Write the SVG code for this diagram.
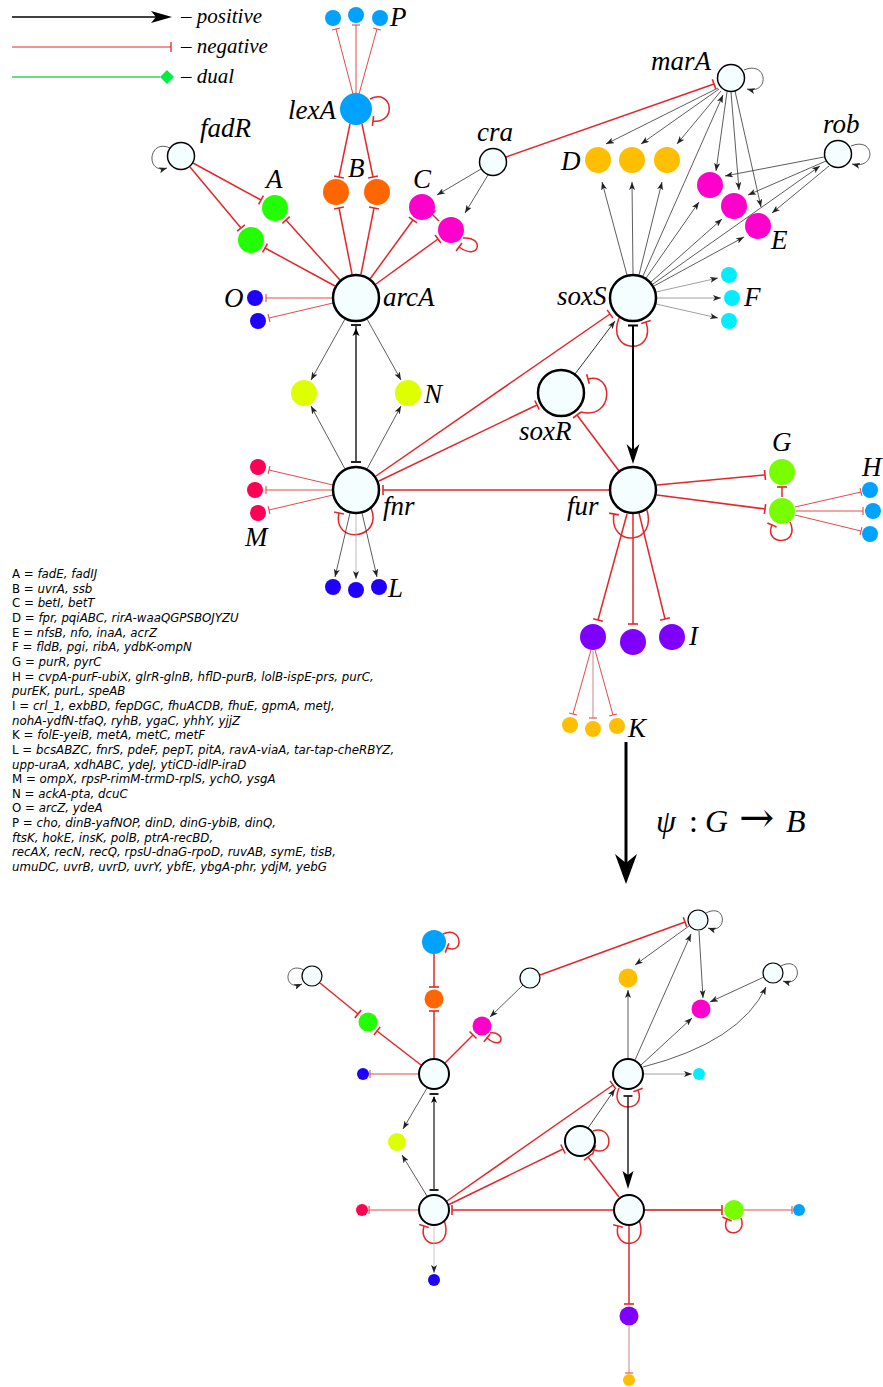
<svg xmlns="http://www.w3.org/2000/svg" width="883" height="1387" viewBox="0 0 883 1387">
<defs>
<style>
.r{stroke:#e3262a;stroke-width:1.5;fill:none;marker-end:url(#tb)}
.rt{stroke:#e24a4a;stroke-width:1;fill:none;marker-end:url(#tbs)}
.k{stroke:#333;stroke-width:0.8;fill:none;marker-end:url(#ah)}
.kg{stroke:#888;stroke-width:0.8;fill:none;marker-end:url(#ah)}
.nd{fill:#f4fefe;stroke:#000;stroke-width:2.5}
.ns{fill:#f4fefe;stroke:#000;stroke-width:1.5}
.nd2{fill:#f4fefe;stroke:#000;stroke-width:2}
.ns2{fill:#f4fefe;stroke:#000;stroke-width:1.2}
.lb{font-family:"Liberation Serif",serif;font-style:italic;font-size:27px;fill:#000}
.lg{font-family:"Liberation Serif",serif;font-style:italic;font-size:21px;fill:#000}
.tx{font-family:"DejaVu Sans",sans-serif;font-size:11.8px;fill:#000}
.it{font-style:italic}
.blue{fill:#00a2ff}.orange{fill:#ff6600}.green{fill:#22ff00}.mag{fill:#ff00cc}
.gold{fill:#ffbf00}.cyan{fill:#00eeff}.ind{fill:#1f00ff}.yel{fill:#ddff00}
.pink{fill:#ff0055}.lime{fill:#77ff00}.purp{fill:#7f00ff}
</style>
<marker id="tb" markerUnits="userSpaceOnUse" viewBox="-2 -6 4 12" markerWidth="4" markerHeight="12" refX="0" refY="0" orient="auto"><path d="M0,-5V5" stroke="#e3262a" stroke-width="1.6"/></marker>
<marker id="tbs" markerUnits="userSpaceOnUse" viewBox="-2 -5 4 10" markerWidth="4" markerHeight="10" refX="0" refY="0" orient="auto"><path d="M0,-4V4" stroke="#e24a4a" stroke-width="1.1"/></marker>
<marker id="ah" markerUnits="userSpaceOnUse" viewBox="0 -3 8 6" markerWidth="8" markerHeight="6" refX="8" refY="0" orient="auto"><path d="M0,-3L8,0L0,3L2,0z" fill="#222"/></marker>
</defs>
<rect width="883" height="1387" fill="#fff"/>

<!-- key -->
<g id="key">
<path d="M12,17H156" stroke="#000" stroke-width="1.3"/>
<path d="M151,11L172,17L151,23L156,17z" fill="#000"/>
<path d="M12,47H171" stroke="#e3262a" stroke-width="1.2"/>
<path d="M171,42V52" stroke="#e3262a" stroke-width="1.3"/>
<path d="M12,77H160" stroke="#33d45a" stroke-width="1.5"/>
<path d="M167,70L174,77L167,84L160,77z" fill="#00ee44"/>
<text class="lg" x="181" y="23">– positive</text>
<text class="lg" x="181" y="53">– negative</text>
<text class="lg" x="181" y="83">– dual</text>
</g>

<!-- connectors: upper network -->
<g id="connectors-upper">
<path class="r" d="M350,124L339,177"/>
<path class="r" d="M362,124L373,177"/>
<path class="r" d="M193,163L261,200"/>
<path class="r" d="M190,167L241,228"/>
<path class="r" d="M340,280L286,220"/>
<path class="r" d="M335,286L265,248"/>
<path class="r" d="M352,274L339,208"/>
<path class="r" d="M361,274L374,208"/>
<path class="r" d="M370,279L413,220"/>
<path class="r" d="M376,284L438,239"/>
<path class="r" d="M439,221L432,214"/>
<path class="r" d="M506,157L714,84"/>
<path class="r" d="M376,476L610,314"/>
<path class="r" d="M379,481L537,405"/>
<path class="r" d="M609,490L383,490"/>
<path class="r" d="M619,471L577,415"/>
<path class="r" d="M657,485L765,475"/>
<path class="r" d="M657,495L765,509"/>
<path class="r" d="M782,497L782,487"/>
<path class="r" d="M627,514L598,620"/>
<path class="r" d="M633,514L633,624"/>
<path class="r" d="M639,513L665,619"/>
<path class="r" d="M370,99C393,88 397,124 373,121"/>
<path class="r" d="M463,238C485,236 480,262 459,247"/>
<path class="r" d="M371,508C384,540 332,545 339,513"/>
<path class="r" d="M581,412C614,420 614,372 588,379"/>
<path class="r" d="M619,318C605,354 657,356 646,322"/>
<path class="r" d="M646,507C660,546 608,548 614,514"/>
<path class="r" d="M790,522C801,546 763,546 772,525"/>

<path class="rt" d="M353,94L336,29"/>
<path class="rt" d="M356,93L356,25"/>
<path class="rt" d="M359,94L377,29"/>
<path class="rt" d="M332,298L266,298"/>
<path class="rt" d="M333,303L269,318"/>
<path class="rt" d="M333,485L269,470"/>
<path class="rt" d="M332,490L266,490"/>
<path class="rt" d="M333,495L269,510"/>
<path class="rt" d="M795,507L861,492"/>
<path class="rt" d="M796,511L863,511"/>
<path class="rt" d="M795,515L861,531"/>
<path class="rt" d="M591,650L573,714"/>
<path class="rt" d="M593,651L593,718" style="stroke:#c88"/>
<path class="rt" d="M595,650L613,715"/>

<path class="k" d="M481,169L437,195"/>
<path class="k" d="M488,175L465,213"/>
<path class="k" d="M345,319L311,380"/>
<path class="k" d="M367,319L401,380"/>
<path class="k" d="M345,469L311,406"/>
<path class="k" d="M367,469L401,406"/>
<path class="k" d="M350,513L335,577"/>
<path class="kg" d="M356,514L356,579" style="stroke:#aaa"/>
<path class="k" d="M362,513L377,577"/>
<path class="k" d="M575,374L615,321" style="stroke-width:1"/>
<path class="k" d="M627,275L602,182"/>
<path class="k" d="M633,274L632,182"/>
<path class="k" d="M639,275L662,182"/>
<path class="k" d="M643,276L723,95"/>
<path class="k" d="M646,278L699,202"/>
<path class="k" d="M651,282L722,219"/>
<path class="k" d="M654,286L744,237"/>
<path class="k" d="M653,284L820,166"/>
<path class="kg" d="M656,292L718,278"/>
<path class="kg" d="M657,298L721,298"/>
<path class="kg" d="M656,304L718,318"/>
<path class="k" d="M718,88L606,144"/>
<path class="k" d="M719,89L641,144"/>
<path class="k" d="M721,91L677,144"/>
<path class="k" d="M727,92L716,171"/>
<path class="k" d="M731,92L739,190"/>
<path class="k" d="M735,91L761,207"/>
<path class="k" d="M824,157L725,176"/>
<path class="k" d="M826,161L748,195"/>
<path class="k" d="M829,166L772,213"/>
<path class="k" d="M170,148C148,138 145,175 167,168"/>
<path class="k" d="M744,70C768,60 770,95 747,89"/>
<path class="k" d="M851,146C875,136 877,170 852,164"/>

<!-- fnr / arcA pair -->
<path d="M356,462V326" stroke="#222" stroke-width="1.5"/>
<path d="M351,325H361M351,462H361" stroke="#222" stroke-width="2"/>
<path d="M356,328L352.5,336L356,334L359.5,336z" fill="#000"/>
<!-- soxS / fur pair -->
<path d="M633,326V452" stroke="#000" stroke-width="2"/>
<path d="M628,325.5H638" stroke="#000" stroke-width="2"/>
<path d="M633,464L626.5,444L633,450L639.5,444z" fill="#000"/>
</g>

<!-- upper network nodes -->
<g id="n-P"><circle class="blue" cx="333" cy="18" r="8"/><circle class="blue" cx="356" cy="15" r="8"/><circle class="blue" cx="380" cy="18" r="8"/><text class="lb" x="390" y="26">P</text></g>
<g id="n-lexA"><circle class="blue" cx="356" cy="109" r="16"/><text class="lb" x="288" y="119">lexA</text></g>
<g id="n-fadR"><circle class="ns" cx="181" cy="156" r="13.5"/><text class="lb" x="200" y="137">fadR</text></g>
<g id="n-A"><circle class="green" cx="275" cy="208" r="13"/><circle class="green" cx="251" cy="240" r="13"/><text class="lb" x="266" y="188">A</text></g>
<g id="n-B"><circle class="orange" cx="336" cy="192" r="13"/><circle class="orange" cx="377" cy="192" r="13"/><text class="lb" x="348" y="177">B</text></g>
<g id="n-C"><circle class="mag" cx="422" cy="207" r="13"/><circle class="mag" cx="451" cy="230" r="13"/><text class="lb" x="413" y="188">C</text></g>
<g id="n-cra"><circle class="ns" cx="493" cy="162" r="13.5"/><text class="lb" x="477" y="141">cra</text></g>
<g id="n-marA"><circle class="ns" cx="731" cy="78" r="13.5"/><text class="lb" x="651" y="70">marA</text></g>
<g id="n-rob"><circle class="ns" cx="838" cy="154" r="13.5"/><text class="lb" x="823" y="133">rob</text></g>
<g id="n-D"><circle class="gold" cx="598" cy="160" r="13"/><circle class="gold" cx="632" cy="160" r="13"/><circle class="gold" cx="667" cy="160" r="13"/><text class="lb" x="561" y="170">D</text></g>
<g id="n-E"><circle class="mag" cx="710" cy="185" r="13"/><circle class="mag" cx="734" cy="206" r="13"/><circle class="mag" cx="758" cy="226" r="13"/><text class="lb" x="771" y="249">E</text></g>
<g id="n-F"><circle class="cyan" cx="729" cy="275" r="8"/><circle class="cyan" cx="732" cy="298" r="8"/><circle class="cyan" cx="729" cy="321" r="8"/><text class="lb" x="744" y="306">F</text></g>
<g id="n-arcA"><circle class="nd" cx="356" cy="298" r="23"/><text class="lb" x="383" y="306">arcA</text></g>
<g id="n-O"><circle class="ind" cx="255" cy="298" r="8"/><circle class="ind" cx="258" cy="321" r="8"/><text class="lb" x="224" y="307">O</text></g>
<g id="n-N"><circle class="yel" cx="304" cy="393" r="13"/><circle class="yel" cx="408" cy="393" r="13"/><text class="lb" x="424" y="403">N</text></g>
<g id="n-soxS"><circle class="nd" cx="633" cy="298" r="23"/><text class="lb" x="557" y="305">soxS</text></g>
<g id="n-soxR"><circle class="nd" cx="561" cy="393" r="23"/><text class="lb" x="519" y="440">soxR</text></g>
<g id="n-fnr"><circle class="nd" cx="356" cy="490" r="23"/><text class="lb" x="383" y="515">fnr</text></g>
<g id="n-M"><circle class="pink" cx="258" cy="467" r="8"/><circle class="pink" cx="255" cy="490" r="8"/><circle class="pink" cx="258" cy="513" r="8"/><text class="lb" x="245" y="546">M</text></g>
<g id="n-L"><circle class="ind" cx="333" cy="587" r="8"/><circle class="ind" cx="356" cy="590" r="8"/><circle class="ind" cx="379" cy="587" r="8"/><text class="lb" x="388" y="597">L</text></g>
<g id="n-fur"><circle class="nd" cx="633" cy="490" r="23"/><text class="lb" x="567" y="515">fur</text></g>
<g id="n-G"><circle class="lime" cx="782" cy="472" r="13"/><circle class="lime" cx="782" cy="511" r="13"/><text class="lb" x="772" y="451">G</text></g>
<g id="n-H"><circle class="blue" cx="870" cy="490" r="8"/><circle class="blue" cx="873" cy="511" r="8"/><circle class="blue" cx="870" cy="534" r="8"/><text class="lb" x="862" y="476">H</text></g>
<g id="n-I"><circle class="purp" cx="593" cy="637" r="13"/><circle class="purp" cx="633" cy="642" r="13"/><circle class="purp" cx="672" cy="637" r="13"/><text class="lb" x="689" y="645">I</text></g>
<g id="n-K"><circle class="gold" cx="570" cy="725" r="8"/><circle class="gold" cx="593" cy="729" r="8"/><circle class="gold" cx="617" cy="726" r="8"/><text class="lb" x="628" y="737">K</text></g>

<!-- gene groups -->
<g id="gene-list" class="tx">
<text x="12" y="578">A = <tspan class="it">fadE, fadIJ</tspan></text>
<text x="12" y="592.6">B = <tspan class="it">uvrA, ssb</tspan></text>
<text x="12" y="607.3">C = <tspan class="it">betI, betT</tspan></text>
<text x="12" y="622">D = <tspan class="it">fpr, pqiABC, rirA-waaQGPSBOJYZU</tspan></text>
<text x="12" y="636.6">E = <tspan class="it">nfsB, nfo, inaA, acrZ</tspan></text>
<text x="12" y="651.3">F = <tspan class="it">fldB, pgi, ribA, ydbK-ompN</tspan></text>
<text x="12" y="666">G = <tspan class="it">purR, pyrC</tspan></text>
<text x="12" y="680.6">H = <tspan class="it">cvpA-purF-ubiX, glrR-glnB, hflD-purB, lolB-ispE-prs, purC,</tspan></text>
<text x="12" y="695.2" class="it">purEK, purL, speAB</text>
<text x="12" y="709.9">I = <tspan class="it">crl_1, exbBD, fepDGC, fhuACDB, fhuE, gpmA, metJ,</tspan></text>
<text x="12" y="724.5" class="it">nohA-ydfN-tfaQ, ryhB, ygaC, yhhY, yjjZ</text>
<text x="12" y="739.2">K = <tspan class="it">folE-yeiB, metA, metC, metF</tspan></text>
<text x="12" y="753.8">L = <tspan class="it">bcsABZC, fnrS, pdeF, pepT, pitA, ravA-viaA, tar-tap-cheRBYZ,</tspan></text>
<text x="12" y="768.5" class="it">upp-uraA, xdhABC, ydeJ, ytiCD-idlP-iraD</text>
<text x="12" y="783.1">M = <tspan class="it">ompX, rpsP-rimM-trmD-rplS, ychO, ysgA</tspan></text>
<text x="12" y="797.8">N = <tspan class="it">ackA-pta, dcuC</tspan></text>
<text x="12" y="812.4">O = <tspan class="it">arcZ, ydeA</tspan></text>
<text x="12" y="827.1">P = <tspan class="it">cho, dinB-yafNOP, dinD, dinG-ybiB, dinQ,</tspan></text>
<text x="12" y="841.7" class="it">ftsK, hokE, insK, polB, ptrA-recBD,</text>
<text x="12" y="856.4" class="it">recAX, recN, recQ, rpsU-dnaG-rpoD, ruvAB, symE, tisB,</text>
<text x="12" y="871" class="it">umuDC, uvrB, uvrD, uvrY, ybfE, ybgA-phr, ydjM, yebG</text>
</g>

<!-- mapping arrow -->
<g id="mapping">
<path d="M626,742V866" stroke="#000" stroke-width="3"/>
<path d="M626,884L615,854L626,863L637,854z" fill="#000"/>
<text x="656" y="832" style="font-family:'Liberation Serif',serif;font-size:32px"><tspan font-style="italic">ψ</tspan><tspan x="689">:</tspan><tspan x="705" font-style="italic">G</tspan><tspan x="739" style="font-family:'DejaVu Serif',serif;font-size:42px">→</tspan><tspan x="786" font-style="italic">B</tspan></text>
</g>

<!-- connectors: lower network -->
<g id="connectors-lower">
<path class="r" d="M434,954L434,987"/>
<path class="r" d="M434,1058L434,1011"/>
<path class="r" d="M320,983L358,1014"/>
<path class="r" d="M421,1065L377,1031"/>
<path class="r" d="M445,1063L473,1035"/>
<path class="r" d="M540,975L685,922"/>
<path class="r" d="M447,1201L613,1085"/>
<path class="r" d="M448,1205L563,1149"/>
<path class="r" d="M613,1210L452,1210"/>
<path class="r" d="M619,1197L588,1157"/>
<path class="r" d="M644,1210L722,1210" style="stroke:#d25050;stroke-width:2.2"/>
<path class="r" d="M629,1226L629,1304"/>
<path class="r" d="M443,934C462,925 465,955 447,948"/>
<path class="r" d="M490,1033C506,1031 504,1052 487,1038"/>
<path class="r" d="M444,1220C455,1250 417,1250 424,1226"/>
<path class="r" d="M593,1131C613,1124 615,1157 594,1150"/>
<path class="r" d="M619,1088C608,1113 647,1113 638,1090"/>
<path class="r" d="M639,1220C650,1250 612,1250 618,1226"/>
<path class="r" d="M741,1218C748,1237 719,1238 727,1219"/>

<path class="rt" d="M418,1074L370,1074"/>
<path class="rt" d="M418,1210L369,1210"/>
<path class="rt" d="M744,1210L792,1210"/>
<path class="rt" d="M629,1326L629,1373" style="stroke:#c88"/>

<path class="k" d="M523,985L490,1017"/>
<path class="k" d="M427,1088L403,1129"/>
<path class="k" d="M427,1196L402,1155"/>
<path class="kg" d="M434,1226L434,1273" style="stroke:#bbb"/>
<path class="k" d="M588,1128L615,1089" style="stroke-width:0.9"/>
<path class="k" d="M628,1058L628,990"/>
<path class="k" d="M635,1060L691,934"/>
<path class="k" d="M641,1065L692,1018"/>
<path class="k" d="M643,1067Q740,1042 766,987"/>
<path class="kg" d="M644,1074L692,1074"/>
<path class="k" d="M689,926L635,965"/>
<path class="k" d="M699,931L703,998"/>
<path class="k" d="M764,977L710,1002"/>
<path class="k" d="M304,970C284,960 282,992 302,984"/>
<path class="k" d="M706,913C727,902 728,935 708,928"/>
<path class="k" d="M781,966C802,955 803,988 783,981"/>

<path d="M434,1190V1097" stroke="#444" stroke-width="1.5"/>
<path d="M429.5,1094H438.5M429.5,1190H438.5" stroke="#222" stroke-width="1.8"/>
<path d="M434,1096L431,1103L434,1101L437,1103z" fill="#000"/>
<path d="M628,1096V1178" stroke="#222" stroke-width="1.5"/>
<path d="M623.5,1096H632.5" stroke="#222" stroke-width="1.8"/>
<path d="M628,1189L622.5,1171L628,1175L633.5,1171z" fill="#000"/>
</g>

<!-- lower network nodes -->
<g id="m-lexA"><circle class="blue" cx="434" cy="942" r="12"/></g>
<g id="m-B"><circle class="orange" cx="434" cy="999" r="9.5"/></g>
<g id="m-fadR"><circle class="ns2" cx="312" cy="976" r="10"/></g>
<g id="m-A"><circle class="green" cx="368" cy="1022" r="9.5"/></g>
<g id="m-C"><circle class="mag" cx="482" cy="1026" r="9.5"/></g>
<g id="m-cra"><circle class="ns2" cx="530" cy="978" r="10"/></g>
<g id="m-arcA"><circle class="nd2" cx="434" cy="1074" r="15"/></g>
<g id="m-O"><circle class="ind" cx="363" cy="1074" r="6"/></g>
<g id="m-N"><circle class="yel" cx="397" cy="1142" r="9"/></g>
<g id="m-fnr"><circle class="nd2" cx="434" cy="1210" r="15"/></g>
<g id="m-M"><circle class="pink" cx="362" cy="1210" r="6"/></g>
<g id="m-L"><circle class="ind" cx="434" cy="1280" r="6"/></g>
<g id="m-soxR"><circle class="nd2" cx="580" cy="1141" r="15"/></g>
<g id="m-soxS"><circle class="nd2" cx="628" cy="1074" r="15"/></g>
<g id="m-marA"><circle class="ns2" cx="698" cy="920" r="10"/></g>
<g id="m-rob"><circle class="ns2" cx="773" cy="973" r="10"/></g>
<g id="m-D"><circle class="gold" cx="628" cy="978" r="9.5"/></g>
<g id="m-E"><circle class="mag" cx="701" cy="1009" r="9.5"/></g>
<g id="m-F"><circle class="cyan" cx="699" cy="1074" r="6"/></g>
<g id="m-fur"><circle class="nd2" cx="629" cy="1210" r="15"/></g>
<g id="m-G"><circle class="lime" cx="734" cy="1210" r="10"/></g>
<g id="m-H"><circle class="blue" cx="799" cy="1210" r="6"/></g>
<g id="m-I"><circle class="purp" cx="629" cy="1316" r="9.5"/></g>
<g id="m-K"><circle class="gold" cx="629" cy="1380" r="6"/></g>
</svg>
